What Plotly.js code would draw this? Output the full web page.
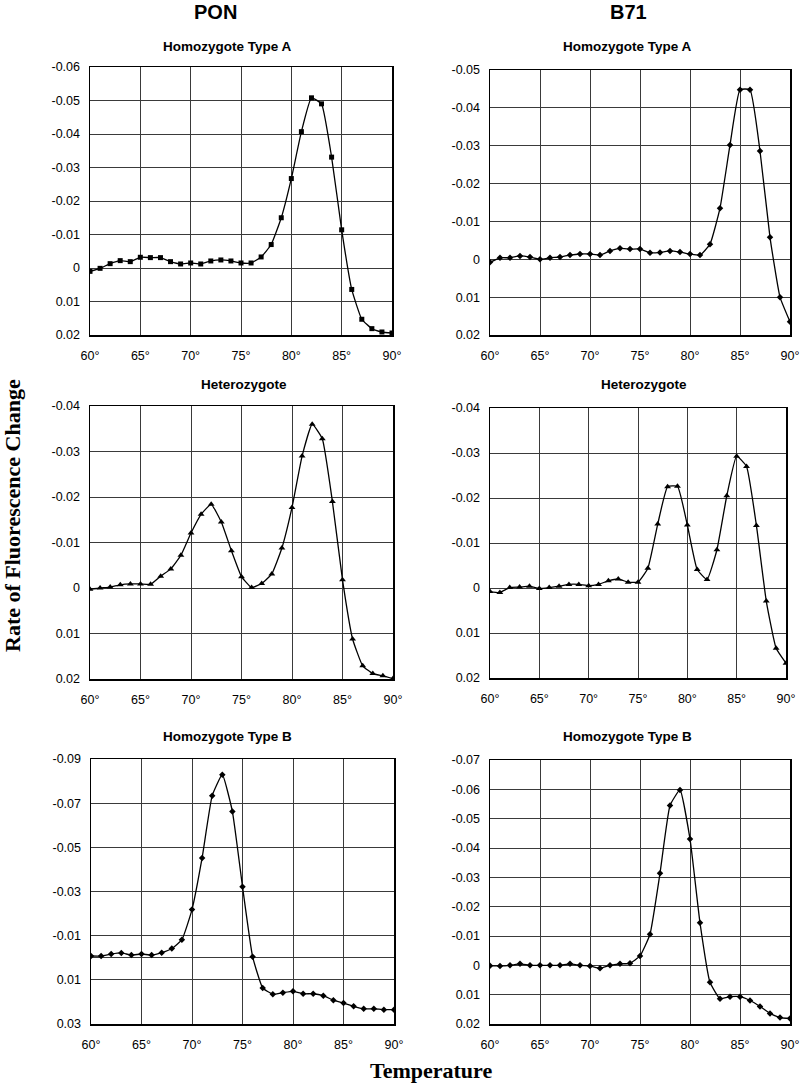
<!DOCTYPE html>
<html>
<head>
<meta charset="utf-8">
<script src="https://cdn.plot.ly/plotly-3.0.1.min.js"></script>
<style>
  body { margin: 0; background: #fff; }
  #plotArea { width: 800px; height: 1085px; }
</style>
</head>
<body>
<div id="plotArea"></div>
<script>
// =============================================================================
// Data: temperature (deg C) vs rate of fluorescence change
// =============================================================================

var temps = [60, 61, 62, 63, 64, 65, 66, 67, 68, 69, 70, 71, 72, 73, 74, 75,
             76, 77, 78, 79, 80, 81, 82, 83, 84, 85, 86, 87, 88, 89, 90];

var ponTypeA = [0.001, 0.0001, -0.0013, -0.0022, -0.0019, -0.0032, -0.0031, -0.0031,
                -0.0019, -0.0012, -0.0015, -0.0012, -0.0021, -0.0024, -0.0021, -0.0015,
                -0.0015, -0.0033, -0.007, -0.015, -0.0267, -0.0407, -0.0508, -0.049,
                -0.0331, -0.0114, 0.0064, 0.0153, 0.0181, 0.0191, 0.0194];

var b71TypeA = [0.0008, -0.0004, -0.0004, -0.0009, -0.0006, 0, -0.0004, -0.0006,
                -0.0011, -0.0014, -0.0014, -0.0011, -0.0022, -0.0029, -0.0027, -0.0027,
                -0.0017, -0.0018, -0.0022, -0.0019, -0.0014, -0.0011, -0.004, -0.0135,
                -0.0302, -0.0448, -0.0448, -0.0286, -0.0058, 0.010, 0.0165];

var ponHet = [0.0003, 0, -0.0002, -0.0007, -0.0009, -0.0009, -0.0008, -0.0026,
              -0.0042, -0.0072, -0.0121, -0.0162, -0.0184, -0.0145, -0.0082, -0.0025,
              -0.0001, -0.001, -0.0031, -0.0088, -0.0177, -0.029, -0.036, -0.0328,
              -0.019, -0.0018, 0.0112, 0.0171, 0.0188, 0.0193, 0.0199];

var b71Het = [0.0008, 0.001, -0.0001, -0.0002, -0.0004, 0.0001, -0.0001, -0.0004,
              -0.0008, -0.0008, -0.0005, -0.0008, -0.0016, -0.002, -0.0013, -0.0013,
              -0.0044, -0.0142, -0.0225, -0.0226, -0.014, -0.0041, -0.0019, -0.0085,
              -0.0205, -0.0293, -0.027, -0.0139, 0.0029, 0.0134, 0.0167];

var ponTypeB = [-0.0008, -0.0008, -0.0017, -0.0022, -0.0012, -0.0017, -0.0012, -0.0023,
                -0.0042, -0.0082, -0.0218, -0.0452, -0.0734, -0.0829, -0.0662, -0.0322,
                -0.0005, 0.0137, 0.0165, 0.0158, 0.0152, 0.0163, 0.0163, 0.0172,
                0.0192, 0.0205, 0.022, 0.0231, 0.0231, 0.0235, 0.0235];

var b71TypeB = [0.0001, 0.0002, 0, -0.0005, 0, 0, 0, 0,
                -0.0005, 0, 0.0002, 0.001, 0, -0.0005, -0.0007, -0.0032,
                -0.0106, -0.0314, -0.0545, -0.0598, -0.0431, -0.0145, 0.0058, 0.0114,
                0.0107, 0.0107, 0.012, 0.014, 0.0164, 0.0178, 0.0181];

var xTickVals = [60, 65, 70, 75, 80, 85, 90];
var xTickText = ["60°", "65°", "70°", "75°", "80°", "85°", "90°"];

var yTicksA1 = [-0.06, -0.05, -0.04, -0.03, -0.02, -0.01, 0, 0.01, 0.02];
var yTicksA2 = [-0.05, -0.04, -0.03, -0.02, -0.01, 0, 0.01, 0.02];
var yTicksHet = [-0.04, -0.03, -0.02, -0.01, 0, 0.01, 0.02];
var yTicksB1 = [-0.09, -0.07, -0.05, -0.03, -0.01, 0.01, 0.03];
var yTicksB2 = [-0.07, -0.06, -0.05, -0.04, -0.03, -0.02, -0.01, 0, 0.01, 0.02];

var panelTitles = ["Homozygote Type A", "Homozygote Type A", "Heterozygote",
                   "Heterozygote", "Homozygote Type B", "Homozygote Type B"];

// =============================================================================
// Layout helpers (pixel boxes -> paper domains)
// =============================================================================

var W = 800, H = 1085;

// [left, right, top, bottom] in pixels
var boxes = [
    [90, 392, 67, 335],
    [490, 790, 70, 335],
    [90, 393, 406, 679],
    [490, 786, 408, 678],
    [91, 394, 759, 1024],
    [490, 790, 760, 1024]
];
// panel title centres [x, y] in pixels
var titlePos = [[228, 47], [627, 47], [244, 384], [644, 384], [228, 736], [627, 736]];

var series = [ponTypeA, b71TypeA, ponHet, b71Het, ponTypeB, b71TypeB];
var symbols = ["square", "diamond", "triangle-up", "triangle-up", "diamond", "diamond"];
var symSize = [5, 5, 6, 6, 5, 5];
var yTicks = [yTicksA1, yTicksA2, yTicksHet, yTicksHet, yTicksB1, yTicksB2];

function fmt(v) {
    if (v === 0) return "0";
    return (v < 0 ? "-" : "") + Math.abs(v).toFixed(2);
}

var data = [];
var layout = {
    width: W,
    height: H,
    margin: {l: 0, r: 0, t: 0, b: 0},
    paper_bgcolor: "#fff",
    plot_bgcolor: "#fff",
    showlegend: false,
    font: {family: "Liberation Sans, Arial, sans-serif", color: "#000", size: 12},
    annotations: []
};

series.forEach(function(ys, i) {
    var n = i + 1;
    var sfx = n === 1 ? "" : String(n);
    var b = boxes[i];
    var ticks = yTicks[i];

    data.push({
        x: temps,
        y: ys,
        xaxis: "x" + sfx,
        yaxis: "y" + sfx,
        type: "scatter",
        mode: "lines+markers",
        line: {color: "#000", width: 1.3, shape: "spline", smoothing: 0.4},
        marker: {symbol: symbols[i], size: symSize[i], color: "#000"},
        hoverinfo: "x+y"
    });

    layout["xaxis" + sfx] = {
        domain: [b[0] / W, b[1] / W],
        anchor: "y" + sfx,
        range: [60, 90],
        tickvals: xTickVals,
        ticktext: xTickText,
        ticks: "",
        ticklabelstandoff: 8,
        showgrid: true,
        gridcolor: "#3a3a3a",
        gridwidth: 1,
        zeroline: false,
        showline: true,
        linecolor: "#000",
        linewidth: 1.5,
        mirror: true,
        tickfont: {size: 12.5}
    };

    layout["yaxis" + sfx] = {
        domain: [1 - b[3] / H, 1 - b[2] / H],
        anchor: "x" + sfx,
        range: [ticks[ticks.length - 1], ticks[0]],
        tickvals: ticks,
        ticktext: ticks.map(fmt),
        ticks: "",
        ticklabelstandoff: 6,
        showgrid: true,
        gridcolor: "#3a3a3a",
        gridwidth: 1,
        zeroline: i === 4,
        zerolinecolor: "#3a3a3a",
        zerolinewidth: 1,
        showline: true,
        linecolor: "#000",
        linewidth: 1.5,
        mirror: true,
        tickfont: {size: 12.5}
    };

    // panel title above plot
    layout.annotations.push({
        text: "<b>" + panelTitles[i] + "</b>",
        xref: "paper", yref: "paper",
        x: titlePos[i][0] / W,
        y: 1 - titlePos[i][1] / H,
        xanchor: "center", yanchor: "middle",
        showarrow: false,
        font: {size: 13.5, family: "Liberation Sans, Arial, sans-serif"}
    });
});

// column headers and shared axis titles
layout.annotations.push(
    {text: "<b>PON</b>", xref: "paper", yref: "paper", x: 215 / W, y: 1 - 12 / H,
     xanchor: "center", yanchor: "middle", showarrow: false, font: {size: 20}},
    {text: "<b>B71</b>", xref: "paper", yref: "paper", x: 628 / W, y: 1 - 12 / H,
     xanchor: "center", yanchor: "middle", showarrow: false, font: {size: 20}},
    {text: "<b>Temperature</b>", xref: "paper", yref: "paper", x: 431 / W, y: 1 - 1070 / H,
     xanchor: "center", yanchor: "middle", showarrow: false,
     font: {size: 22, family: "Liberation Serif, Times New Roman, serif"}},
    {text: "<b>Rate of Fluorescence Change</b>", xref: "paper", yref: "paper",
     x: 12 / W, y: 1 - 516 / H, textangle: -90,
     xanchor: "center", yanchor: "middle", showarrow: false,
     font: {size: 22, family: "Liberation Serif, Times New Roman, serif"}}
);

Plotly.newPlot("plotArea", data, layout, {displayModeBar: false, staticPlot: true});
</script>
</body>
</html>
